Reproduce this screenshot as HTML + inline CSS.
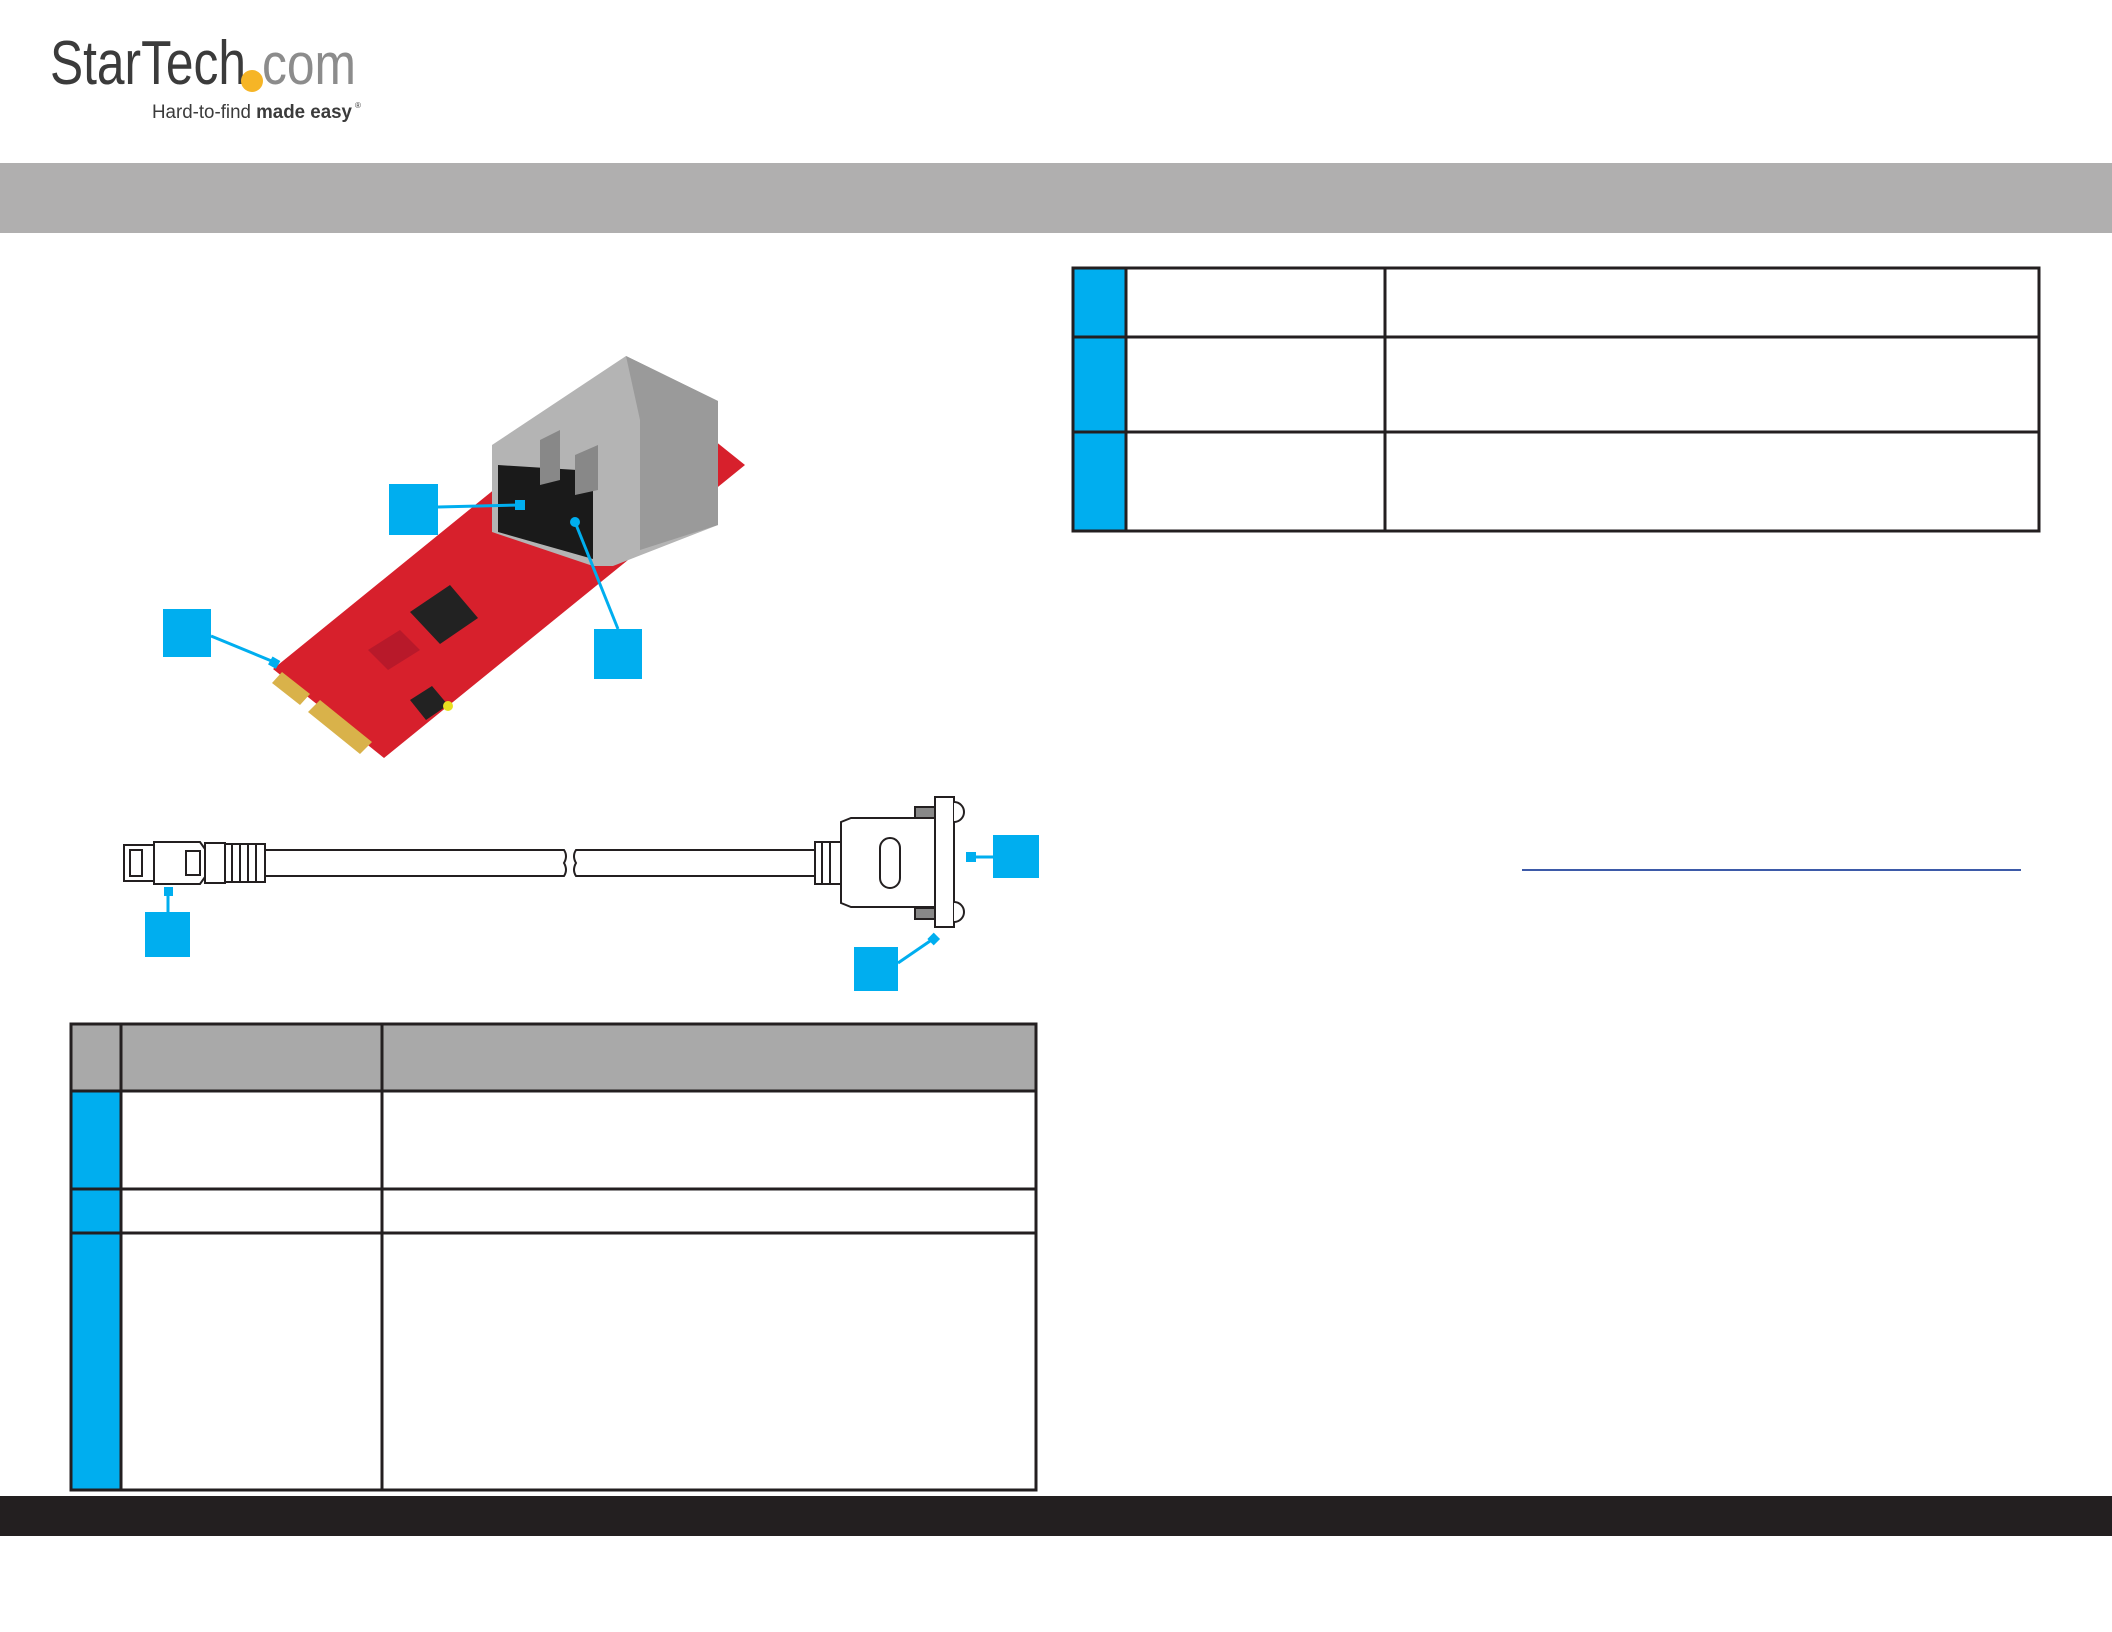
<!DOCTYPE html>
<html><head><meta charset="utf-8"><style>
html,body{margin:0;padding:0;background:#fff;}
body{width:2112px;height:1632px;position:relative;overflow:hidden;font-family:"Liberation Sans",sans-serif;}
svg{position:absolute;left:0;top:0;}
</style></head><body>
<svg width="2112" height="1632" viewBox="0 0 2112 1632" xmlns="http://www.w3.org/2000/svg">
<!-- logo -->
<text x="50" y="84" font-family="Liberation Sans, sans-serif" font-size="62" fill="#3b3b3b" textLength="196" lengthAdjust="spacingAndGlyphs">StarTech</text>
<text x="262" y="84" font-family="Liberation Sans, sans-serif" font-size="58" fill="#8c8c8c" textLength="94" lengthAdjust="spacingAndGlyphs">com</text>
<circle cx="252" cy="81" r="11" fill="#f6b526"/>
<text x="152" y="118" font-family="Liberation Sans, sans-serif" font-size="19" fill="#3b3b3b" textLength="200" lengthAdjust="spacingAndGlyphs">Hard-to-find <tspan font-weight="bold">made easy</tspan></text>
<text x="355" y="108" font-size="8" fill="#3b3b3b">®</text>
<!-- header band -->
<rect x="0" y="163" width="2112" height="70" fill="#b0afaf"/>
<!-- footer band -->
<rect x="0" y="1496" width="2112" height="40" fill="#231f20"/>

<!-- right table -->
<rect x="1074" y="269" width="51" height="261" fill="#00aeef"/>
<g stroke="#231f20" stroke-width="3">
<rect x="1073" y="268" width="966" height="263" fill="none"/>
<line x1="1073" y1="337" x2="2039" y2="337"/>
<line x1="1073" y1="432" x2="2039" y2="432"/>
<line x1="1126" y1="268" x2="1126" y2="531"/>
<line x1="1385" y1="268" x2="1385" y2="531"/>
</g>
<line x1="1522" y1="870" x2="2021" y2="870" stroke="#3d5aa8" stroke-width="2"/>

<!-- bottom table -->
<rect x="71" y="1024" width="965" height="67" fill="#a9a9a9"/>
<rect x="71" y="1091" width="50" height="399" fill="#00aeef"/>
<g stroke="#231f20" stroke-width="3" fill="none">
<rect x="71" y="1024" width="965" height="466"/>
<line x1="71" y1="1091" x2="1036" y2="1091"/>
<line x1="71" y1="1189" x2="1036" y2="1189"/>
<line x1="71" y1="1233" x2="1036" y2="1233"/>
<line x1="121" y1="1024" x2="121" y2="1490"/>
<line x1="382" y1="1024" x2="382" y2="1490"/>
</g>

<!-- PCB -->
<polygon points="273,669 384,758 745,465 634,376" fill="#d7202c"/>
<polygon points="282,672 310,694 300,705 272,683" fill="#d9b24a"/>
<polygon points="320,700 372,742 360,754 308,712" fill="#d9b24a"/>
<polygon points="410,612 450,585 478,618 440,644" fill="#222"/>
<polygon points="410,700 432,686 448,705 426,720" fill="#222"/>
<circle cx="448" cy="706" r="5" fill="#e8e020"/>
<polygon points="368,650 400,630 420,650 388,670" fill="#b0182a" opacity="0.8"/>
<polygon points="492,445 626,356 718,401 718,525 613,566 593,566 492,532" fill="#b4b4b4"/>
<polygon points="626,356 718,401 718,525 640,550 640,420" fill="#9a9a9a"/>
<polygon points="498,465 593,471 593,559 498,532" fill="#1a1a1a"/>
<polygon points="540,440 560,430 560,480 540,485" fill="#888"/>
<polygon points="575,455 598,445 598,490 575,495" fill="#888"/>

<!-- cable -->
<g stroke="#231f20" stroke-width="2" fill="#fff">
<rect x="124" y="845" width="30" height="36"/>
<rect x="130" y="850" width="12" height="26"/>
<path d="M154 842 L200 842 L205 849 L205 877 L200 884 L154 884 Z"/>
<rect x="186" y="851" width="14" height="24"/>
<rect x="205" y="843" width="20" height="40"/>
<rect x="225" y="844" width="40" height="38"/>
<line x1="232" y1="844" x2="232" y2="882"/><line x1="240" y1="844" x2="240" y2="882"/><line x1="248" y1="844" x2="248" y2="882"/><line x1="256" y1="844" x2="256" y2="882"/>
<path d="M265 850 L564 850 Q568 856 564 863 Q568 870 564 876 L265 876 Z"/>
<path d="M576 850 L815 850 L815 876 L576 876 Q572 870 576 863 Q572 856 576 850 Z"/>
<rect x="815" y="842" width="26" height="42"/>
<line x1="822" y1="842" x2="822" y2="884"/><line x1="830" y1="842" x2="830" y2="884"/>
<path d="M841 822 L851 818 L936 818 L936 907 L851 907 L841 903 Z"/>
<rect x="880" y="838" width="20" height="50" rx="10"/>
<rect x="935" y="797" width="19" height="130"/>
<rect x="915" y="807" width="20" height="11" fill="#888"/>
<rect x="915" y="908" width="20" height="11" fill="#888"/>
<path d="M954 802 A10 10 0 0 1 954 822"/>
<path d="M954 902 A10 10 0 0 1 954 922"/>
</g>

<!-- callouts -->
<g fill="#00aeef" stroke="#00aeef" stroke-width="3">
<rect x="163" y="609" width="48" height="48" stroke="none"/>
<line x1="211" y1="636" x2="274" y2="662"/><rect x="270" y="658" width="9" height="9" stroke="none" transform="rotate(30 274 662)"/>
<rect x="389" y="484" width="49" height="51" stroke="none"/>
<line x1="438" y1="507" x2="520" y2="505"/><rect x="515" y="500" width="10" height="10" stroke="none"/>
<rect x="594" y="629" width="48" height="50" stroke="none"/>
<line x1="618" y1="629" x2="575" y2="522"/><circle cx="575" cy="522" r="5" stroke="none"/>
<rect x="145" y="912" width="45" height="45" stroke="none"/>
<line x1="168" y1="912" x2="168" y2="893"/><rect x="164" y="887" width="9" height="9" stroke="none"/>
<rect x="993" y="835" width="46" height="43" stroke="none"/>
<line x1="993" y1="857" x2="972" y2="857"/><rect x="966" y="852" width="10" height="10" stroke="none"/>
<rect x="854" y="947" width="44" height="44" stroke="none"/>
<line x1="898" y1="963" x2="933" y2="939"/><rect x="929" y="934" width="9" height="9" stroke="none" transform="rotate(45 933 939)"/>
</g>
</svg>
</body></html>
